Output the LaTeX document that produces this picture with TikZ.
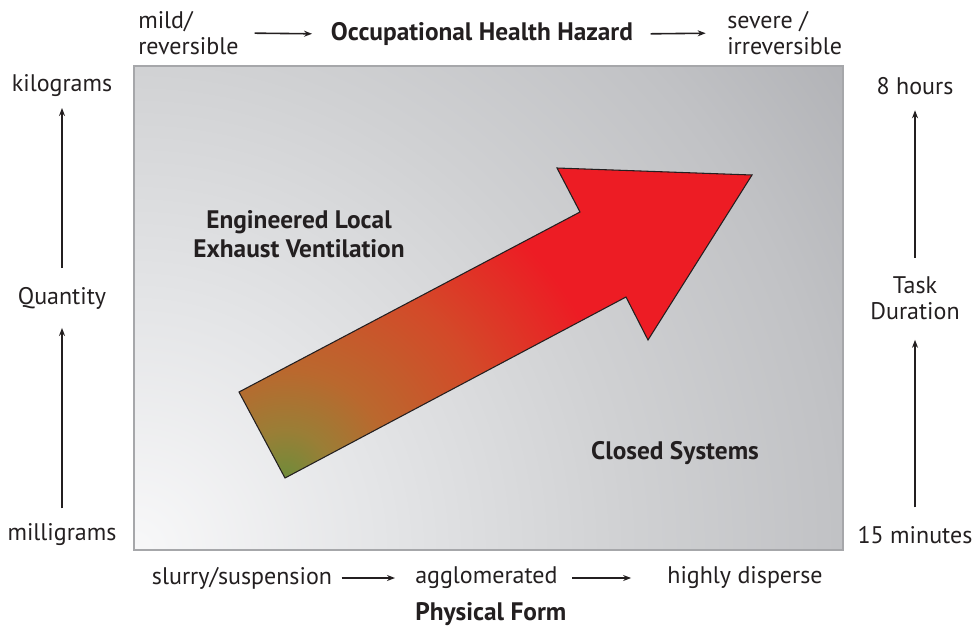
\documentclass[tikz,border=0pt]{standalone}
\usepackage{fontspec}
\setmainfont{PT Sans}
\usetikzlibrary{arrows.meta}

\definecolor{ink}{HTML}{231F20}
\definecolor{framegray}{HTML}{A6A7AA}
\definecolor{panelwhite}{HTML}{F8F8F9}
\definecolor{panellight}{HTML}{E4E5E7}
\definecolor{panelmid}{HTML}{D0D1D3}
\definecolor{panelgray}{HTML}{C1C2C5}
\definecolor{paneldark}{HTML}{B0B1B5}
\definecolor{tailgreen}{HTML}{6F8C3A}
\definecolor{tailolive}{HTML}{9A7E36}
\definecolor{tailbrown}{HTML}{BA682E}
\definecolor{shaftorange}{HTML}{D34A29}
\definecolor{headred}{HTML}{ED1C24}

\pgfdeclareradialshading{panelshade}{\pgfpointorigin}{color(0bp)=(panelwhite); color(7bp)=(panellight); color(14bp)=(panelmid); color(20bp)=(panelgray); color(25bp)=(paneldark); color(50bp)=(paneldark)}
\pgfdeclareradialshading{ventshade}{\pgfpointorigin}{color(0bp)=(tailgreen); color(2bp)=(tailolive); color(4.5bp)=(tailbrown); color(9bp)=(shaftorange); color(14bp)=(headred); color(50bp)=(headred)}

\begin{document}
\begin{tikzpicture}[x=0.75pt, y=-0.75pt,
  axistext/.style={text=ink, inner sep=0pt, align=center, font=\fontsize{18}{19.5}\selectfont},
  boldtext/.style={axistext, font=\fontsize{19}{22}\selectfont\bfseries},
  axisarrow/.style={draw=ink, line width=1.2pt, -{Stealth[length=6pt, width=4.5pt]}}]
\useasboundingbox (0,0) rectangle (977,628);

\begin{scope}
\clip (134,66) rectangle (843,550);
\shade[shading=panelshade] (134,550) circle [radius=880];
\end{scope}
\draw[framegray, line width=2.2pt] (134,66) rectangle (843,550);

\begin{scope}
\clip (239,392) -- (580,212) -- (557,168) -- (752,175) -- (648,340) -- (626,297) -- (285,478) -- cycle;
\shade[shading=ventshade] (285,478) circle [radius=600];
\end{scope}
\draw[ink, line width=0.8pt] (239,392) -- (580,212) -- (557,168) -- (752,175) -- (648,340) -- (626,297) -- (285,478) -- cycle;

\node[boldtext] (elev) at (299,234) {Engineered Local\\Exhaust Ventilation};
\node[boldtext] (closed) at (675,453) {Closed Systems};

\node[axistext, anchor=west, align=left] (mild) at (138,33) {mild/\\reversible};
\node[boldtext] (hazard) at (482,34) {Occupational Health Hazard};
\node[axistext, anchor=west, align=left] (severe) at (727,33) {severe /\\irreversible};
\draw[axisarrow, shorten <=12pt, shorten >=14pt] (mild.east) -- (hazard.west);
\draw[axisarrow, shorten <=13pt, shorten >=16pt] (hazard.east) -- (severe.west);

\node[axistext] (kilo) at (62,86) {kilograms};
\node[axistext] (qty) at (62,298) {Quantity};
\node[axistext] (milli) at (62,535) {milligrams};
\draw[axisarrow, shorten <=11.5pt, shorten >=14pt] (milli) -- (qty);
\draw[axisarrow, shorten <=14pt, shorten >=8pt] (qty) -- (kilo);

\node[axistext] (hours) at (915,86) {8 hours};
\node[axistext] (task) at (915,298) {Task\\Duration};
\node[axistext] (minutes) at (915,535) {15 minutes};
\draw[axisarrow, shorten <=14pt, shorten >=15pt] (minutes) -- (task);
\draw[axisarrow, shorten <=14pt, shorten >=11.5pt] (task) -- (hours);

\node[axistext] (slurry) at (242,578) {slurry/suspension};
\node[axistext, anchor=west] (agglo) at (415,578) {agglomerated};
\node[axistext] (disperse) at (745,578) {highly disperse};
\node[boldtext, anchor=west] (form) at (415,614) {Physical Form};
\draw[axisarrow, shorten <=7pt, shorten >=15pt] (slurry.east) -- (agglo.west);
\draw[axisarrow, shorten <=11pt, shorten >=27pt] (agglo.east) -- (disperse.west);
\end{tikzpicture}
\end{document}
